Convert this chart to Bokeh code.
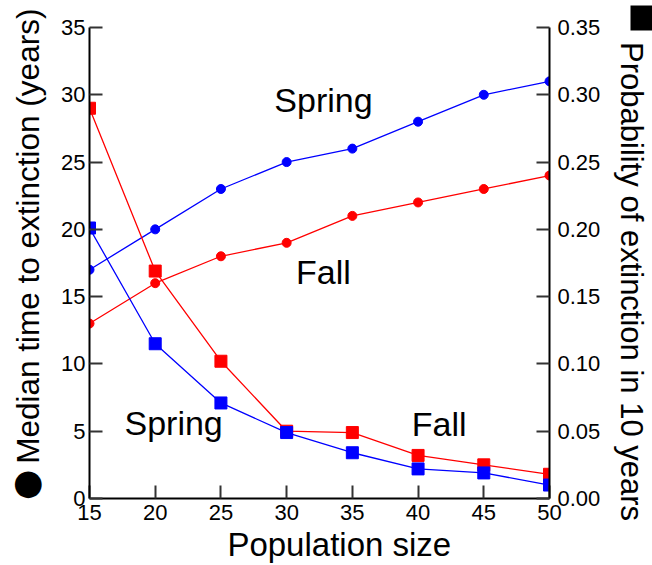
from bokeh.plotting import figure
from bokeh.models import Range1d, LinearAxis, FixedTicker, NumeralTickFormatter, ColumnDataSource
from bokeh.core.properties import value
from bokeh.embed import file_html
from bokeh.resources import INLINE

# ---- data ----
pop_size = [15, 20, 25, 30, 35, 40, 45, 50]
spring_median = [17, 20, 23, 25, 26, 28, 30, 31]
fall_median = [13, 16, 18, 19, 21, 22, 23, 24]
spring_prob = [0.201, 0.115, 0.071, 0.049, 0.034, 0.022, 0.019, 0.010]
fall_prob = [0.290, 0.169, 0.102, 0.050, 0.049, 0.032, 0.025, 0.018]

x_ticks = [15, 20, 25, 30, 35, 40, 45, 50]
left_ticks = [0, 5, 10, 15, 20, 25, 30, 35]
right_ticks = [0.0, 0.05, 0.10, 0.15, 0.20, 0.25, 0.30, 0.35]

label_text = ["Spring", "Fall", "Spring", "Fall"]
label_x = [32.8, 32.8, 21.4, 41.6]
label_y = [29.6, 16.8, 5.6, 5.5]

FONT = "Liberation Sans"
BLUE = "#0000ff"
RED = "#ff0000"

p = figure(width=652, height=565, x_range=Range1d(15, 50), y_range=Range1d(0, 35),
           output_backend="svg", toolbar_location=None,
           min_border_left=89, min_border_right=95, min_border_top=27, min_border_bottom=67)
p.extra_y_ranges = {"prob": Range1d(0, 0.35)}
p.outline_line_color = None
p.xgrid.visible = False
p.ygrid.visible = False
p.background_fill_color = "white"
p.border_fill_color = "white"

def style_axis(ax, label_size):
    ax.axis_line_color = "black"
    ax.axis_line_width = 2
    ax.major_tick_line_color = "#333333"
    ax.major_tick_line_width = 2
    ax.major_tick_in = 13
    ax.major_tick_out = 0
    ax.minor_tick_line_color = None
    ax.major_label_text_font = FONT
    ax.major_label_text_font_size = "22px"
    ax.major_label_text_color = "black"
    ax.axis_label_text_font = FONT
    ax.axis_label_text_font_size = label_size
    ax.axis_label_text_font_style = "normal"
    ax.axis_label_text_color = "black"

xa = p.xaxis[0]
style_axis(xa, "33px")
xa.ticker = FixedTicker(ticks=x_ticks)
xa.axis_label = "\u2003\u2009Population size"
xa.major_label_standoff = 6
xa.axis_label_standoff = 3

ya = p.yaxis[0]
style_axis(ya, "31.5px")
ya.ticker = FixedTicker(ticks=left_ticks)
ya.axis_label = "\u2003\u2002\u2009Median time to extinction (years)"
ya.major_label_standoff = 4
ya.axis_label_standoff = 12

ra = LinearAxis(y_range_name="prob")
style_axis(ra, "31px")
ra.ticker = FixedTicker(ticks=right_ticks)
ra.formatter = NumeralTickFormatter(format="0.00")
ra.axis_label = "\u2003\u2009Probability of extinction in 10 years"
ra.major_label_standoff = 8
ra.axis_label_standoff = 11
p.add_layout(ra, "right")

# big filled circle that starts the left axis title (drawn as the label of a bare extra axis)
sym_axis = LinearAxis(ticker=FixedTicker(ticks=[1.2]), major_label_overrides={1.2: "\u25cf"},
                      axis_line_color=None, major_tick_line_color=None, minor_tick_line_color=None,
                      major_tick_in=0, major_tick_out=0, major_label_standoff=-36,
                      major_label_text_font="DejaVu Sans", major_label_text_font_size="35px",
                      major_label_text_color="black")
p.add_layout(sym_axis, "left")

# filled square that starts the right axis title (drawn as the title's filled box)
p.title.text = "\u2003"
p.title.align = "left"
p.title.offset = 541
p.title.standoff = -6
p.title.vertical_align = "bottom"
p.title.text_font = FONT
p.title.text_font_size = "22px"
p.title.text_color = "black"
p.title.background_fill_color = "black"

# median time (circles, left axis)
p.line(pop_size, fall_median, line_color=RED, line_width=1.3)
p.scatter(pop_size, fall_median, marker="circle", size=9, fill_color=RED, line_color=RED)
p.line(pop_size, spring_median, line_color=BLUE, line_width=1.3)
p.scatter(pop_size, spring_median, marker="circle", size=9, fill_color=BLUE, line_color=BLUE)

# probability (squares, right axis)
p.line(pop_size, fall_prob, line_color=RED, line_width=1.3, y_range_name="prob")
p.scatter(pop_size, fall_prob, marker="square", size=12, fill_color=RED, line_color=RED, y_range_name="prob")
p.line(pop_size, spring_prob, line_color=BLUE, line_width=1.3, y_range_name="prob")
p.scatter(pop_size, spring_prob, marker="square", size=12, fill_color=BLUE, line_color=BLUE, y_range_name="prob")

src = ColumnDataSource(dict(x=label_x, y=label_y, t=label_text))
p.text(x="x", y="y", text="t", source=src, text_font=value(FONT), text_font_size="34px",
       text_align="center", text_baseline="middle", text_color="black")

open("out.html", "w").write(file_html(p, INLINE))
